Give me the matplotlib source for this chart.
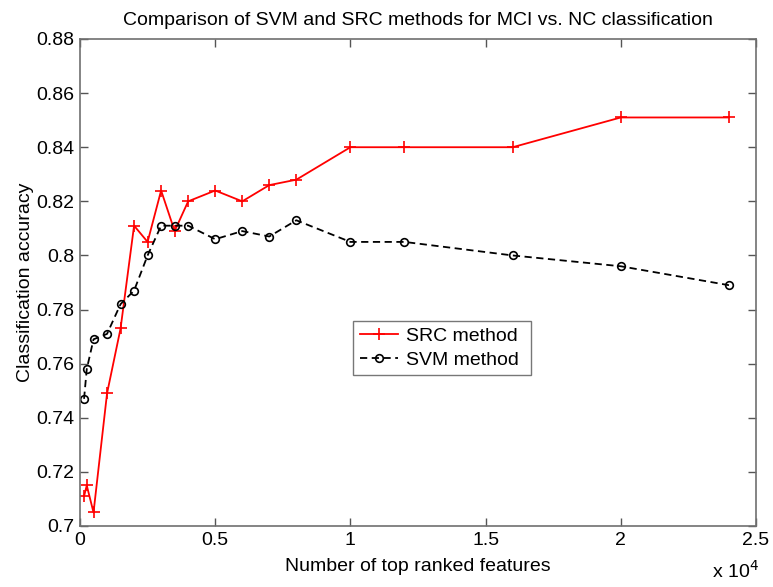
import matplotlib
matplotlib.use("Agg")
import matplotlib.pyplot as plt
from matplotlib.ticker import FuncFormatter, MultipleLocator

plt.rcParams['font.family'] = ['Liberation Sans', 'DejaVu Sans']

# Number of top ranked features used for classification
n_features = [150, 250, 500, 1000, 1500, 2000, 2500, 3000, 3500, 4000,
              5000, 6000, 7000, 8000, 10000, 12000, 16000, 20000, 24000]

# Classification accuracy of each method
src_acc = [0.711, 0.715, 0.705, 0.749, 0.773, 0.811, 0.805, 0.824, 0.809, 0.820,
           0.824, 0.820, 0.826, 0.828, 0.840, 0.840, 0.840, 0.851, 0.851]
svm_acc = [0.747, 0.758, 0.769, 0.771, 0.782, 0.787, 0.800, 0.811, 0.811, 0.811,
           0.806, 0.809, 0.807, 0.813, 0.805, 0.805, 0.800, 0.796, 0.789]

fig = plt.figure(figsize=(7.73, 5.87), dpi=100)
ax = fig.add_axes([80 / 773, 1 - 526 / 587, 676 / 773, 487 / 587])

ax.plot(n_features, src_acc, color='#ff0000', linestyle='-', linewidth=1.3,
        marker='+', markersize=9, markeredgewidth=1.2, label='SRC method ')
ax.plot(n_features, svm_acc, color='black', linestyle='--', linewidth=1.3,
        dashes=(4, 2.5), marker='o', markersize=5.5, markerfacecolor='none',
        markeredgewidth=1.2, label='SVM method ')

ax.set_xlim(0, 25000)
ax.set_ylim(0.70, 0.88)
ax.xaxis.set_major_locator(MultipleLocator(5000))
ax.yaxis.set_major_locator(MultipleLocator(0.02))
ax.xaxis.set_major_formatter(FuncFormatter(lambda v, p: f"{v / 1e4:g}"))
ax.yaxis.set_major_formatter(FuncFormatter(lambda v, p: f"{round(v, 2):g}"))

ax.tick_params(direction='in', length=6, width=1, top=True, right=True,
               labelsize=14, colors='#555555', labelcolor='black', pad=4)
for sp in ax.spines.values():
    sp.set_color('#707070')
    sp.set_linewidth(1.2)

ax.set_xlabel('Number of top ranked features', fontsize=14, labelpad=7)
ax.set_ylabel('Classification accuracy', fontsize=14, labelpad=2)
ax.set_title('Comparison of SVM and SRC methods for MCI vs. NC classification',
             fontsize=14, pad=10)

fig.text(712 / 773, 1 - 578 / 587, r'x 10$^{4}$', fontsize=14, ha='left',
         va='baseline')

leg = ax.legend(loc='center', bbox_to_anchor=(0.5355, 0.3655), fontsize=14,
                frameon=True, fancybox=False, handlelength=2.0,
                borderpad=0.35, labelspacing=0.3, handletextpad=0.4)
leg.get_frame().set_edgecolor('#555555')
leg.get_frame().set_linewidth(1.0)

fig.savefig('out.png', dpi=100)
